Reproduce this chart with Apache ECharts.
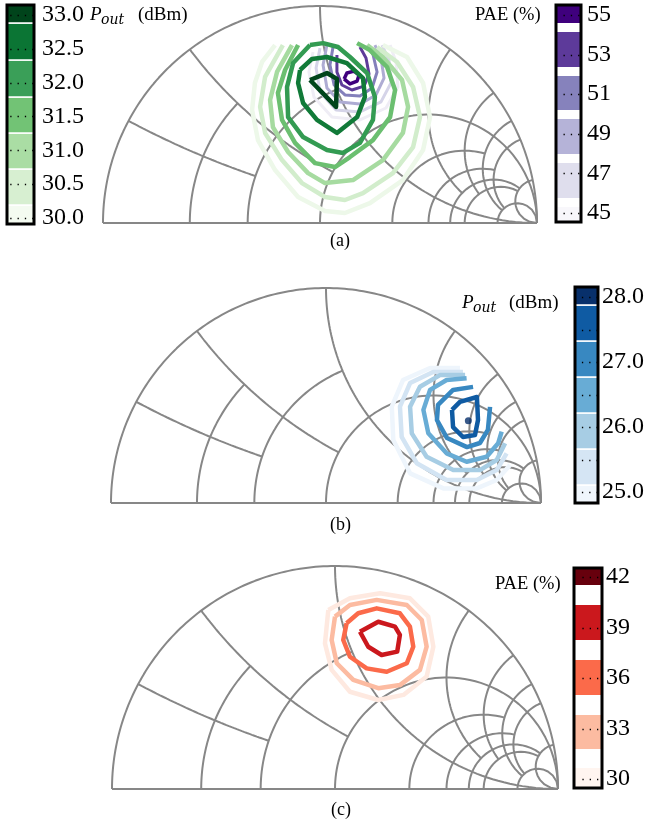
<!DOCTYPE html>
<html>
<head>
<meta charset="utf-8">
<script src="https://cdn.jsdelivr.net/npm/echarts@6/dist/echarts.min.js"></script>
<style>
  html, body { margin: 0; padding: 0; background: #fff; }
  #chart { width: 649px; height: 827px; }
</style>
</head>
<body>
<div id="chart"></div>
<script>
// ---- Smith chart grid (normalised impedance values) ----
var R_CIRCLES = [0.25, 0.5, 1, 2, 3, 4, 5, 10]
var R_CIRCLE_XMAX = [0.5, 1, Infinity, 4, 5, 10, 10, Infinity]
var X_ARCS = [0.25, 0.5, 1, 2, 3, 4, 5, 10]
var X_ARC_RMAX = [0.5, 1, Infinity, 4, 5, 10, 10, Infinity]

// ---- (a) Pout contours, reflection coefficient [re, im] ----
var A_POUT_30_0 = [[-0.207, 0.820], [-0.267, 0.742], [-0.300, 0.645], [-0.313, 0.521], [-0.286, 0.382], [-0.207, 0.244], [-0.101, 0.120], [0.023, 0.055], [0.115, 0.046], [0.230, 0.092], [0.382, 0.198], [0.475, 0.336], [0.507, 0.488], [0.475, 0.645], [0.401, 0.765], [0.290, 0.820]]
var A_POUT_30_5 = [[-0.171, 0.820], [-0.253, 0.673], [-0.276, 0.535], [-0.253, 0.415], [-0.175, 0.290], [-0.083, 0.184], [0.023, 0.120], [0.115, 0.106], [0.198, 0.138], [0.336, 0.230], [0.429, 0.350], [0.461, 0.488], [0.429, 0.627], [0.355, 0.742], [0.263, 0.811]]
var A_POUT_31_0 = [[-0.129, 0.820], [-0.198, 0.696], [-0.230, 0.567], [-0.217, 0.442], [-0.147, 0.327], [-0.055, 0.230], [0.023, 0.184], [0.152, 0.198], [0.290, 0.290], [0.382, 0.415], [0.406, 0.535], [0.378, 0.659], [0.290, 0.765], [0.217, 0.820]]
var A_POUT_31_5 = [[-0.101, 0.820], [-0.161, 0.705], [-0.194, 0.599], [-0.175, 0.475], [-0.115, 0.369], [-0.023, 0.276], [0.069, 0.258], [0.138, 0.304], [0.244, 0.382], [0.323, 0.488], [0.346, 0.613], [0.309, 0.719], [0.230, 0.797], [0.171, 0.829]]
var A_POUT_32_0 = [[-0.046, 0.820], [0.014, 0.829], [0.083, 0.811], [0.138, 0.765], [0.217, 0.691], [0.253, 0.581], [0.244, 0.475], [0.184, 0.369], [0.106, 0.323], [0.032, 0.336], [-0.078, 0.396], [-0.147, 0.488], [-0.152, 0.627], [-0.124, 0.737], [-0.046, 0.820]]
var A_POUT_32_5 = [[-0.092, 0.705], [-0.037, 0.756], [0.032, 0.765], [0.124, 0.737], [0.198, 0.668], [0.207, 0.581], [0.171, 0.488], [0.078, 0.415], [-0.014, 0.475], [-0.078, 0.553], [-0.101, 0.645], [-0.092, 0.705]]
var A_POUT_33_0 = [[-0.046, 0.659], [0.032, 0.691], [0.078, 0.664], [0.074, 0.535], [-0.046, 0.659]]

// ---- (a) PAE contours ----
var A_PAE_45 = [[-0.032, 0.788], [-0.051, 0.696], [-0.028, 0.581], [0.055, 0.488], [0.184, 0.475], [0.304, 0.530], [0.359, 0.627], [0.350, 0.742], [0.323, 0.820]]
var A_PAE_47 = [[0.000, 0.806], [-0.018, 0.714], [0.000, 0.604], [0.074, 0.521], [0.184, 0.512], [0.281, 0.558], [0.327, 0.645], [0.318, 0.751], [0.286, 0.820]]
var A_PAE_49 = [[0.032, 0.820], [0.014, 0.728], [0.032, 0.622], [0.092, 0.558], [0.184, 0.548], [0.258, 0.590], [0.295, 0.668], [0.281, 0.760], [0.253, 0.820]]
var A_PAE_51 = [[0.060, 0.811], [0.046, 0.728], [0.065, 0.636], [0.115, 0.590], [0.184, 0.585], [0.240, 0.622], [0.263, 0.696], [0.245, 0.774], [0.221, 0.820]]
var A_PAE_53 = [[0.078, 0.774], [0.078, 0.696], [0.101, 0.636], [0.147, 0.613], [0.203, 0.631], [0.226, 0.687], [0.212, 0.760], [0.184, 0.811]]
var A_PAE_55 = [[0.111, 0.664], [0.124, 0.691], [0.157, 0.700], [0.180, 0.682], [0.171, 0.654], [0.138, 0.641], [0.111, 0.664]]

// ---- (b) Pout contours ----
var B_POUT_25_0 = [[0.623, 0.628], [0.484, 0.628], [0.358, 0.572], [0.306, 0.448], [0.313, 0.293], [0.391, 0.138], [0.546, 0.068], [0.701, 0.068], [0.794, 0.107], [0.856, 0.177]]
var B_POUT_25_5 = [[0.637, 0.609], [0.498, 0.609], [0.391, 0.558], [0.344, 0.448], [0.352, 0.308], [0.422, 0.185], [0.561, 0.107], [0.701, 0.107], [0.794, 0.153], [0.840, 0.231]]
var B_POUT_26_0 = [[0.647, 0.595], [0.530, 0.595], [0.437, 0.541], [0.391, 0.448], [0.399, 0.324], [0.468, 0.215], [0.592, 0.153], [0.716, 0.153], [0.794, 0.200], [0.833, 0.278]]
var B_POUT_26_5 = [[0.654, 0.580], [0.561, 0.572], [0.484, 0.526], [0.453, 0.433], [0.476, 0.324], [0.561, 0.231], [0.654, 0.192], [0.747, 0.215], [0.801, 0.278], [0.817, 0.332]]
var B_POUT_27_0 = [[0.684, 0.540], [0.591, 0.526], [0.521, 0.456], [0.516, 0.386], [0.563, 0.302], [0.656, 0.260], [0.716, 0.279], [0.753, 0.340], [0.763, 0.447]]
var B_POUT_27_5 = [[0.586, 0.433], [0.623, 0.470], [0.702, 0.493], [0.707, 0.386], [0.693, 0.316], [0.637, 0.307], [0.591, 0.353], [0.586, 0.433]]
var B_POUT_28_0 = [[0.662, 0.383]]

// ---- (c) PAE contours ----
var C_PAE_30 = [[-0.030, 0.803], [0.067, 0.855], [0.202, 0.878], [0.336, 0.855], [0.418, 0.773], [0.441, 0.638], [0.411, 0.504], [0.307, 0.422], [0.194, 0.399], [0.067, 0.436], [-0.015, 0.534], [-0.045, 0.653], [-0.030, 0.803]]
var C_PAE_33 = [[0.000, 0.773], [0.067, 0.825], [0.187, 0.848], [0.322, 0.825], [0.389, 0.758], [0.411, 0.638], [0.381, 0.534], [0.291, 0.466], [0.194, 0.452], [0.082, 0.489], [0.008, 0.564], [-0.015, 0.668], [0.000, 0.773]]
var C_PAE_36 = [[0.052, 0.743], [0.104, 0.788], [0.187, 0.810], [0.291, 0.788], [0.336, 0.728], [0.351, 0.638], [0.322, 0.564], [0.232, 0.526], [0.142, 0.541], [0.067, 0.593], [0.037, 0.668], [0.052, 0.743]]
var C_PAE_39 = [[0.112, 0.705], [0.194, 0.750], [0.269, 0.728], [0.291, 0.691], [0.279, 0.616], [0.209, 0.601], [0.149, 0.638], [0.112, 0.705]]

// ---- colour bars: band edges (low, high) and tick values ----
var GREEN_EDGES = [29.911, 30.192, 30.724, 31.256, 31.788, 32.335, 32.882, 33.148]
var GREEN_COLORS = ['#f4fbf1', '#d7efd1', '#aadda4', '#72c375', '#3a9f58', '#0b7534', '#00441b']
var GREEN_TICKS = [30.0, 30.5, 31.0, 31.5, 32.0, 32.5, 33.0]

var PURPLE_LOW = [44.545, 45.758, 47.980, 50.202, 52.374, 54.596]
var PURPLE_HIGH = [45.303, 47.525, 49.747, 51.919, 54.141, 55.505]
var PURPLE_COLORS = ['#f8f7fb', '#dfdeed', '#b5b3d8', '#8682bc', '#5d3a9a', '#3f007d']
var PURPLE_TICKS = [45, 47, 49, 51, 53, 55]

var BLUE_EDGES = [24.831, 25.108, 25.662, 26.215, 26.769, 27.323, 27.877, 28.154]
var BLUE_COLORS = ['#f0f6fc', '#d5e5f4', '#a7cde4', '#68acd5', '#3888c1', '#0f5ba3', '#08306b']
var BLUE_TICKS = [25.0, 25.5, 26.0, 26.5, 27.0, 27.5, 28.0]
var BLUE_LABELS = [25.0, 26.0, 27.0, 28.0]

var RED_LOW = [29.465, 31.783, 34.991, 38.259, 41.527]
var RED_HIGH = [30.654, 33.803, 37.071, 40.339, 42.537]
var RED_COLORS = ['#fff5f0', '#fcbba1', '#fb6a4a', '#cb181d', '#67000d']
var RED_TICKS = [30, 33, 36, 39, 42]

var SERIF = '"Liberation Serif", "DejaVu Serif", serif'
var GRID_GRAY = '#878787'

function gamma(r, x) {
  var den = (r + 1) * (r + 1) + x * x
  return [(r * r - 1 + x * x) / den, (2 * x) / den]
}

// points along a constant-r circle (vary x) or a constant-x arc (vary r)
function gridLine(fixed, upto, isR) {
  var pts = []
  var tMax = upto === Infinity ? Math.PI / 2 : Math.atan(upto)
  var n = 90
  for (var i = 0; i <= n; i++) {
    var t = tMax * i / n
    if (Math.abs(t - Math.PI / 2) < 1e-9) {
      pts.push([1, 0])
      continue
    }
    var v = Math.tan(t)
    pts.push(isR ? gamma(fixed, v) : gamma(v, fixed))
  }
  return pts
}

var chart = echarts.init(document.getElementById('chart'), null, { renderer: 'canvas' })

var smithPanels = [
  { left: 103, top: 6, size: 217 },
  { left: 111, top: 288, size: 215 },
  { left: 112, top: 566, size: 223 }
]

var grids = []
var xAxes = []
var yAxes = []
var series = []

smithPanels.forEach(function(p, k) {
  grids.push({ left: p.left, top: p.top, width: p.size * 2, height: p.size })
  xAxes.push({ gridIndex: k, type: 'value', min: -1, max: 1, show: false })
  yAxes.push({ gridIndex: k, type: 'value', min: 0, max: 1, show: false })

  var outer = []
  for (var i = 0; i <= 180; i++) {
    var a = Math.PI * i / 180
    outer.push([Math.cos(a), Math.sin(a)])
  }
  var lines = [outer, [[-1, 0], [1, 0]]]
  R_CIRCLES.forEach(function(r, j) { lines.push(gridLine(r, R_CIRCLE_XMAX[j], true)) })
  X_ARCS.forEach(function(x, j) { lines.push(gridLine(x, X_ARC_RMAX[j], false)) })
  lines.forEach(function(pts) {
    series.push({
      type: 'line', xAxisIndex: k, yAxisIndex: k, data: pts, showSymbol: false,
      silent: true, animation: false, z: 1,
      lineStyle: { color: GRID_GRAY, width: 2 }
    })
  })
})

function contour(k, pts, color, width) {
  if (pts.length === 1) {
    series.push({
      type: 'scatter', xAxisIndex: k, yAxisIndex: k, data: pts, symbolSize: 7,
      itemStyle: { color: color }, silent: true, animation: false, z: 3
    })
    return
  }
  series.push({
    type: 'line', xAxisIndex: k, yAxisIndex: k, data: pts, showSymbol: false,
    silent: true, animation: false, z: 3,
    lineStyle: { color: color, width: width, join: 'round', cap: 'butt' }
  })
}

// panel (a): PAE first, Pout on top
contour(0, A_PAE_45, '#efedf5', 3)
contour(0, A_PAE_47, '#d5d4e8', 3)
contour(0, A_PAE_49, '#aeacd3', 3)
contour(0, A_PAE_51, '#8480bb', 3)
contour(0, A_PAE_53, '#5e3c99', 3)
contour(0, A_PAE_55, '#3f007d', 3.5)
contour(0, A_POUT_30_0, '#edf8e9', 4.5)
contour(0, A_POUT_30_5, '#d2edcc', 4.5)
contour(0, A_POUT_31_0, '#a6dba0', 4.5)
contour(0, A_POUT_31_5, '#6bbf70', 4.5)
contour(0, A_POUT_32_0, '#339b52', 4.5)
contour(0, A_POUT_32_5, '#117a38', 4.5)
contour(0, A_POUT_33_0, '#00441b', 4.5)
// panel (b)
contour(1, B_POUT_25_0, '#eef5fc', 4.5)
contour(1, B_POUT_25_5, '#d3e4f3', 4.5)
contour(1, B_POUT_26_0, '#a7cde4', 4.5)
contour(1, B_POUT_26_5, '#68acd5', 4.5)
contour(1, B_POUT_27_0, '#3888c1', 4.5)
contour(1, B_POUT_27_5, '#0f5ba3', 4.5)
contour(1, B_POUT_28_0, '#08306b', 4.5)
// panel (c)
contour(2, C_PAE_30, '#fee9e0', 4.5)
contour(2, C_PAE_33, '#fcbba1', 4.5)
contour(2, C_PAE_36, '#fb6a4a', 4.5)
contour(2, C_PAE_39, '#cb181d', 4.5)

// ---- colour bars ----
function rectItem(api, x0, x1, lo, hi) {
  var p0 = api.coord([x0, lo])
  var p1 = api.coord([x1, hi])
  return { x: p0[0], y: p1[1], width: p1[0] - p0[0], height: p0[1] - p1[1] }
}

function colorBar(box, min, max, lows, highs, colors, ticks, labels, digits) {
  var k = grids.length
  grids.push({ left: box.left, top: box.top, width: box.width, height: box.height })
  xAxes.push({ gridIndex: k, type: 'value', min: 0, max: 1, show: false })
  yAxes.push({
    gridIndex: k, type: 'value', min: min, max: max, position: 'right', z: 5,
    axisLine: { show: false },
    splitLine: { show: false },
    axisTick: { show: false },
    axisLabel: {
      customValues: labels, margin: box.margin,
      color: '#000', fontSize: 24, fontFamily: SERIF,
      formatter: function(v) { return Number(v).toFixed(digits) }
    }
  })
  var data = lows.map(function(lo, i) { return [lo, highs[i], i] })
  series.push({
    type: 'custom', xAxisIndex: k, yAxisIndex: k, data: data, silent: true, animation: false, z: 2,
    renderItem: function(params, api) {
      return {
        type: 'rect',
        shape: rectItem(api, 0, 1, api.value(0), api.value(1)),
        style: { fill: colors[api.value(2)], stroke: '#fff', lineWidth: box.sep }
      }
    }
  })
  // dotted level ticks inside the bar
  series.push({
    type: 'custom', xAxisIndex: k, yAxisIndex: k, data: ticks.map(function(t) { return [t] }),
    silent: true, animation: false, z: 3,
    renderItem: function(params, api) {
      var a = api.coord([box.dotFrom, api.value(0)])
      var b = api.coord([0.97, api.value(0)])
      return {
        type: 'line',
        shape: { x1: a[0], y1: Math.round(a[1]) + 0.5, x2: b[0], y2: Math.round(a[1]) + 0.5 },
        style: { stroke: '#000', lineWidth: 1.3, lineDash: [1.3, 6] }
      }
    }
  })
  series.push({
    type: 'custom', xAxisIndex: k, yAxisIndex: k, data: [[min, max]], silent: true, animation: false, z: 4,
    renderItem: function(params, api) {
      return {
        type: 'rect',
        shape: rectItem(api, 0, 1, api.value(0), api.value(1)),
        style: { fill: 'none', stroke: '#000', lineWidth: 3 }
      }
    }
  })
}

colorBar({ left: 7, top: 5, width: 27, height: 219, margin: 8, sep: 1.5, dotFrom: 0.12 },
  29.911, 33.148, GREEN_EDGES.slice(0, -1), GREEN_EDGES.slice(1), GREEN_COLORS, GREEN_TICKS, GREEN_TICKS, 1)
colorBar({ left: 556, top: 5, width: 25, height: 217, margin: 6, sep: 0, dotFrom: 0.3 },
  44.545, 55.505, PURPLE_LOW, PURPLE_HIGH, PURPLE_COLORS, PURPLE_TICKS, PURPLE_TICKS, 0)
colorBar({ left: 575, top: 287, width: 23, height: 216, margin: 4, sep: 1.5, dotFrom: 0.3 },
  24.831, 28.154, BLUE_EDGES.slice(0, -1), BLUE_EDGES.slice(1), BLUE_COLORS, BLUE_TICKS, BLUE_LABELS, 1)
colorBar({ left: 574, top: 568, width: 28, height: 220, margin: 4, sep: 0, dotFrom: 0.3 },
  29.465, 42.537, RED_LOW, RED_HIGH, RED_COLORS, RED_TICKS, RED_TICKS, 0)

function label(x, y, text, size, italic, family) {
  return {
    type: 'text', x: x, y: y, silent: true,
    style: {
      text: text, fill: '#000', fontFamily: family || SERIF, fontSize: size,
      fontStyle: italic ? 'italic' : 'normal', verticalAlign: 'middle', align: 'left'
    }
  }
}

var MATH = '"DejaVu Serif", serif'
var graphics = [
  label(90, 15, 'P', 19, true), label(101, 20, 'out', 14, true, MATH), label(138, 15, '(dBm)', 19, false),
  label(475, 15, 'PAE (%)', 18.5, false),
  label(462, 303, 'P', 19, true), label(473, 308, 'out', 14, true, MATH), label(509, 303, '(dBm)', 19, false),
  label(495, 584, 'PAE (%)', 18.5, false),
  label(330, 241, '(a)', 18, false),
  label(330, 525, '(b)', 18, false),
  label(331, 810, '(c)', 18, false)
]

chart.setOption({
  backgroundColor: '#fff',
  animation: false,
  grid: grids,
  xAxis: xAxes,
  yAxis: yAxes,
  series: series,
  graphic: graphics
})
</script>
</body>
</html>
